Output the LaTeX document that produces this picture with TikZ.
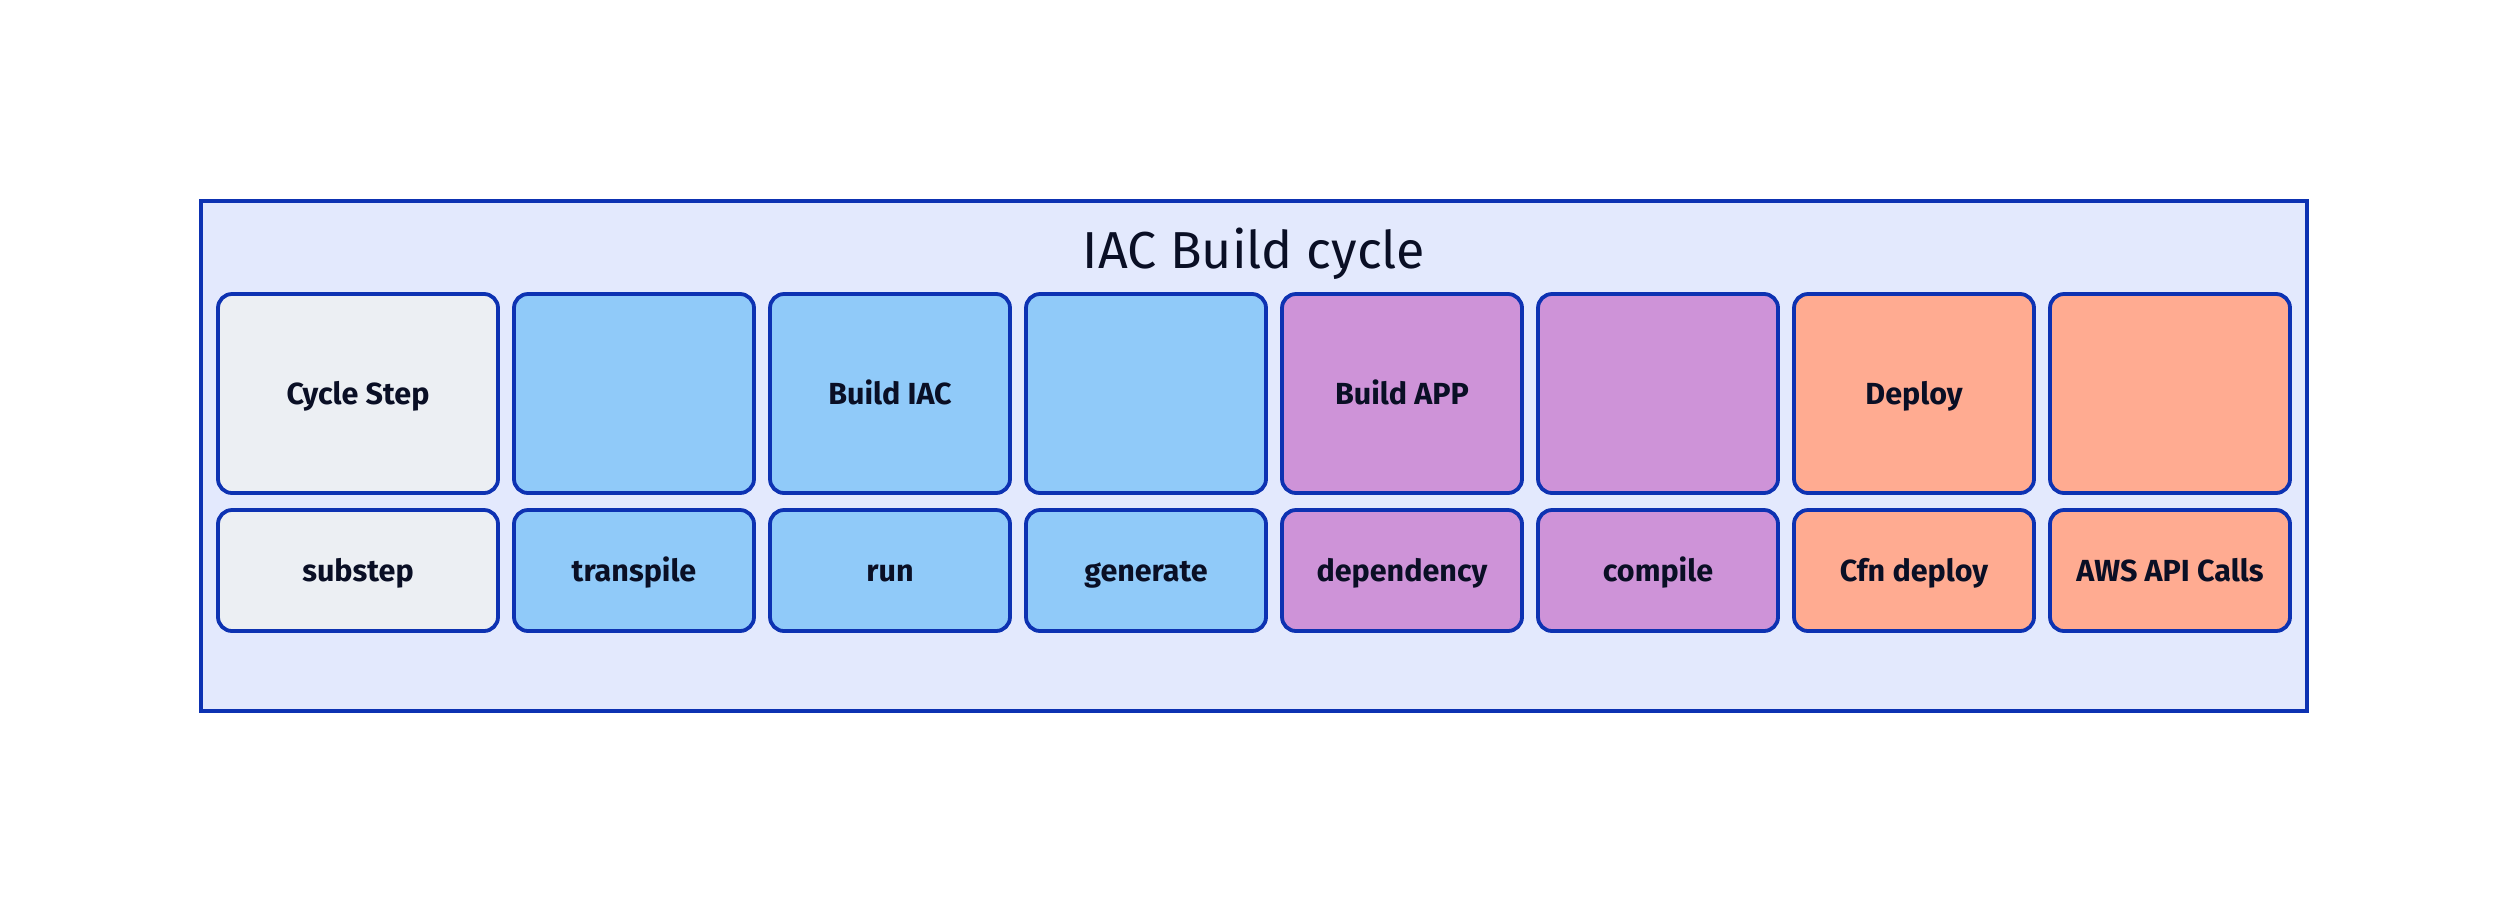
\documentclass[tikz,border=0pt]{standalone}
\usepackage{fontspec}
\setmainfont{Fira Sans}
\newfontfamily\titlefont{Fira Sans}
\newfontfamily\boxfont{Fira Sans}
\definecolor{strokeblue}{HTML}{0D32B2}
\definecolor{contfill}{HTML}{E3E9FD}
\definecolor{txt}{HTML}{0A0F25}
\definecolor{greyfill}{HTML}{ECEFF3}
\definecolor{bluefill}{HTML}{90CAF9}
\definecolor{purplefill}{HTML}{CE93D8}
\definecolor{orangefill}{HTML}{FFAB91}
\tikzset{
  cell/.style={draw=strokeblue, line width=3.8pt, rounded corners=14pt, inner sep=0pt,
    text=txt, font=\boxfont\bfseries\fontsize{30.5}{36}\selectfont,
    text height=21pt, text depth=0pt, align=center},
  topcell/.style={cell, minimum width=240pt, minimum height=199pt},
  botcell/.style={cell, minimum width=240pt, minimum height=121pt},
  wide/.style={minimum width=280pt},
  container/.style={draw=strokeblue, fill=contfill, line width=3.8pt},
}
\begin{document}
\begin{tikzpicture}[x=1pt,y=-1pt]
\useasboundingbox (0,0) rectangle (2508,914);
\fill[white] (0,0) rectangle (2508,914);
\draw[container] (201,201) rectangle (2307,711);
\node[anchor=base, text=txt, font=\titlefont\fontsize{52}{60}\selectfont] (title) at (1254,268) {IAC Build cycle};
% top row
\node[topcell, wide, fill=greyfill] (t1) at (358,393.5) {Cycle Step};
\node[topcell, fill=bluefill] (t2) at (634,393.5) {};
\node[topcell, fill=bluefill] (t3) at (890,393.5) {Build IAC};
\node[topcell, fill=bluefill] (t4) at (1146,393.5) {};
\node[topcell, fill=purplefill] (t5) at (1402,393.5) {Build APP};
\node[topcell, fill=purplefill] (t6) at (1658,393.5) {};
\node[topcell, fill=orangefill] (t7) at (1914,393.5) {Deploy};
\node[topcell, fill=orangefill] (t8) at (2170,393.5) {};
% bottom row
\node[botcell, wide, fill=greyfill] (b1) at (358,570.5) {substep};
\node[botcell, fill=bluefill] (b2) at (634,570.5) {transpile};
\node[botcell, fill=bluefill] (b3) at (890,570.5) {run};
\node[botcell, fill=bluefill] (b4) at (1146,570.5) {generate};
\node[botcell, fill=purplefill] (b5) at (1402,570.5) {dependency};
\node[botcell, fill=purplefill] (b6) at (1658,570.5) {compile};
\node[botcell, fill=orangefill] (b7) at (1914,570.5) {Cfn deploy};
\node[botcell, fill=orangefill] (b8) at (2170,570.5) {AWS API Calls};
\end{tikzpicture}
\end{document}
